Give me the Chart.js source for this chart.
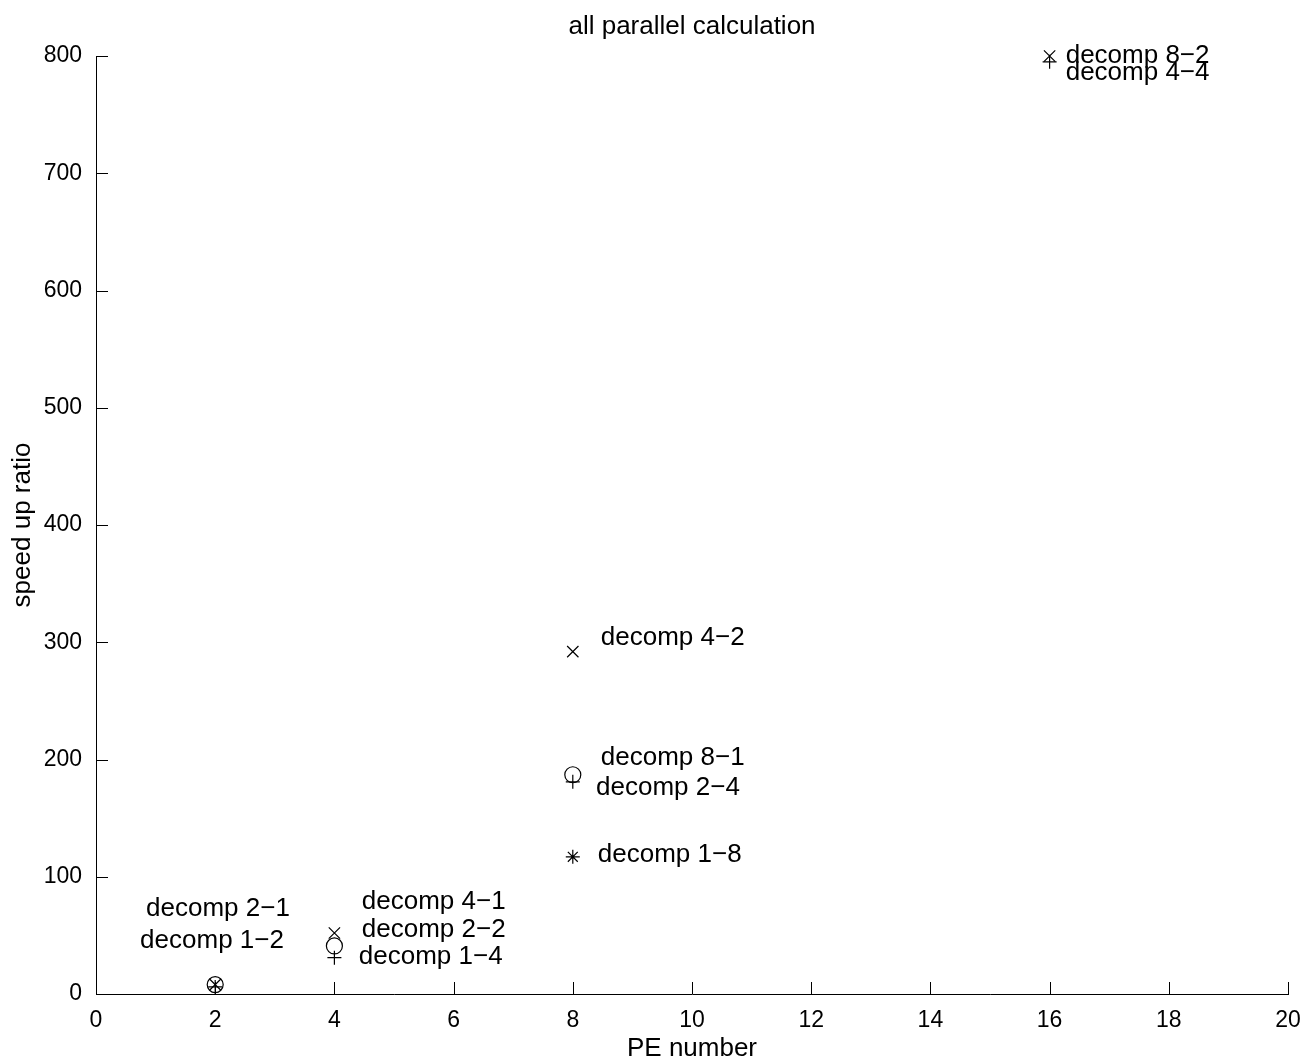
<!DOCTYPE html>
<html>
<head>
<meta charset="utf-8">
<title>all parallel calculation</title>
<script src="https://cdn.jsdelivr.net/npm/chart.js@4.4.1/dist/chart.umd.min.js"></script>
<style>
  html, body { margin: 0; padding: 0; background: #fff; }
  #wrap { width: 1307px; height: 1064px; }
</style>
</head>
<body>
<div id="wrap"><canvas id="speedup" width="1307" height="1064"></canvas></div>
<script>
// ------------------------------------------------
// Data
// ------------------------------------------------
const xTicks = [0, 2, 4, 6, 8, 10, 12, 14, 16, 18, 20];
const yTicks = [0, 100, 200, 300, 400, 500, 600, 700, 800];

// markers grouped by symbol
const crossRotPE = [2, 4, 8, 16];
const crossRotSpeedup = [8, 52, 292, 800];

const circlePE = [2, 4, 8];
const circleSpeedup = [8, 41, 187];

const plusPE = [2, 4, 8, 16];
const plusSpeedup = [6, 31, 181, 795];

const starPE = [8];
const starSpeedup = [117];

// text annotations (data coordinates, left anchored)
const noteText = [
  'decomp 2\u22121', 'decomp 1\u22122',
  'decomp 4\u22121', 'decomp 2\u22122', 'decomp 1\u22124',
  'decomp 4\u22122', 'decomp 8\u22121', 'decomp 2\u22124', 'decomp 1\u22128',
  'decomp 8\u22122', 'decomp 4\u22124'
];
const noteX = [0.84, 0.74, 4.46, 4.46, 4.41, 8.47, 8.47, 8.39, 8.42, 16.27, 16.27];
const noteY = [73, 45, 79, 55, 32, 304, 201, 176, 119, 800, 786];

const FONT = '"Liberation Sans", Arial, Helvetica, sans-serif';

function toPoints(xs, ys) {
  return xs.map((x, i) => ({ x: x, y: ys[i] }));
}

function markerSet(label, xs, ys, style, radius) {
  return {
    label: label,
    data: toPoints(xs, ys),
    pointStyle: style,
    pointRadius: radius,
    pointHoverRadius: radius,
    pointBorderColor: '#000',
    pointBackgroundColor: 'rgba(0,0,0,0)',
    pointBorderWidth: 1.2,
    showLine: false,
    clip: false
  };
}

// inward ticks, title and annotations
const figureExtras = {
  id: 'figureExtras',
  afterDatasetsDraw(chart) {
    const ctx = chart.ctx;
    const xs = chart.scales.x;
    const ys = chart.scales.y;
    const area = chart.chartArea;
    ctx.save();
    ctx.strokeStyle = '#000';
    ctx.lineWidth = 1;
    ctx.beginPath();
    xTicks.forEach(v => {
      const px = Math.round(xs.getPixelForValue(v)) + 0.5;
      ctx.moveTo(px, area.bottom);
      ctx.lineTo(px, area.bottom - 12);
    });
    yTicks.forEach(v => {
      const py = Math.round(ys.getPixelForValue(v)) + 0.5;
      ctx.moveTo(area.left, py);
      ctx.lineTo(area.left + 12, py);
    });
    ctx.stroke();

    ctx.fillStyle = '#000';
    ctx.font = '26px ' + FONT;
    ctx.textAlign = 'left';
    ctx.textBaseline = 'middle';
    noteText.forEach((t, i) => {
      ctx.fillText(t, xs.getPixelForValue(noteX[i]), ys.getPixelForValue(noteY[i]));
    });

    ctx.textAlign = 'center';
    ctx.fillText('all parallel calculation', (area.left + area.right) / 2, 27);
    ctx.restore();
  }
};

new Chart(document.getElementById('speedup'), {
  type: 'scatter',
  data: {
    datasets: [
      markerSet('x', crossRotPE, crossRotSpeedup, 'crossRot', 8),
      markerSet('o', circlePE, circleSpeedup, 'circle', 8),
      markerSet('+', plusPE, plusSpeedup, 'cross', 7),
      markerSet('*', starPE, starSpeedup, 'star', 7)
    ]
  },
  options: {
    responsive: false,
    animation: false,
    layout: { padding: { left: 0, top: 56, right: 19, bottom: 0 } },
    plugins: {
      legend: { display: false },
      title: { display: false },
      tooltip: { enabled: false }
    },
    scales: {
      x: {
        type: 'linear',
        min: 0,
        max: 20,
        afterFit: s => { s.height = 70; s.paddingLeft = 0; s.paddingRight = 0; },
        afterBuildTicks: s => { s.ticks = xTicks.map(v => ({ value: v })); },
        grid: { display: false, drawTicks: false, tickLength: 0 },
        border: { display: true, color: '#000', width: 1 },
        ticks: { color: '#000', padding: 13, maxRotation: 0, font: { family: FONT, size: 23 } },
        title: {
          display: true,
          text: 'PE number',
          color: '#000',
          padding: { top: 0, bottom: 0 },
          font: { family: FONT, size: 26 }
        }
      },
      y: {
        type: 'linear',
        min: 0,
        max: 800,
        afterFit: s => { s.width = 96; s.paddingTop = 0; s.paddingBottom = 0; },
        afterBuildTicks: s => { s.ticks = yTicks.map(v => ({ value: v })); },
        grid: { display: false, drawTicks: false, tickLength: 0 },
        border: { display: true, color: '#000', width: 1 },
        ticks: { color: '#000', padding: 14, font: { family: FONT, size: 23 } },
        title: {
          display: true,
          text: 'speed up ratio',
          color: '#000',
          padding: { top: 7, bottom: 0 },
          font: { family: FONT, size: 26 }
        }
      }
    }
  },
  plugins: [figureExtras]
});
</script>
</body>
</html>
